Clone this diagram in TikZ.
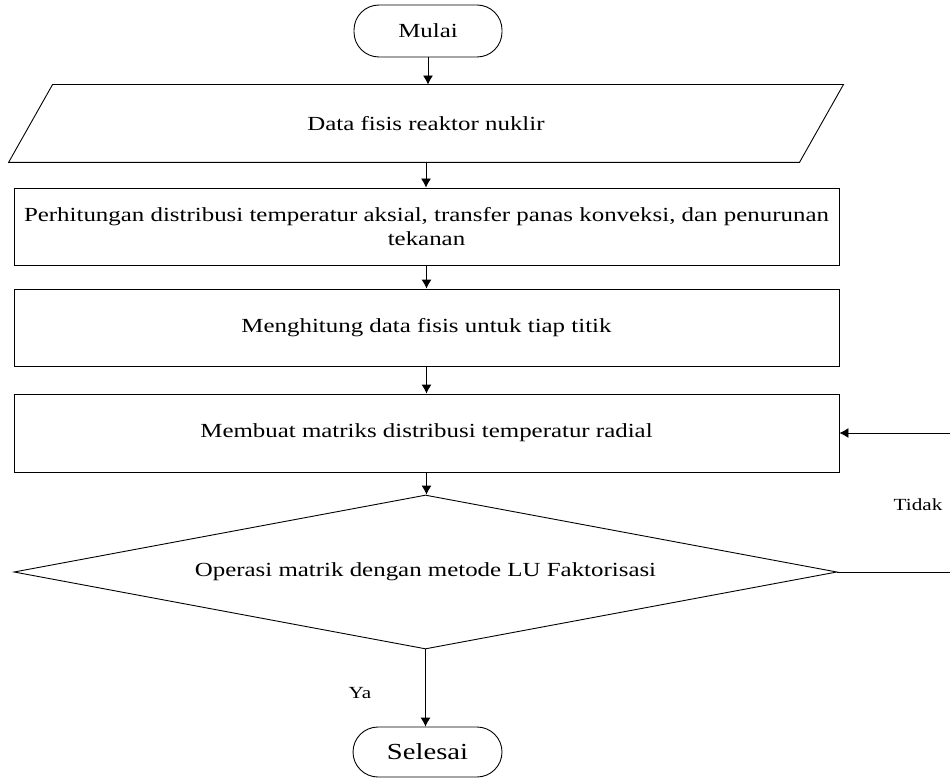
\documentclass[tikz,border=0pt]{standalone}
\usepackage{fontspec}
\setmainfont{Liberation Serif}[FakeStretch=1.245]
\usetikzlibrary{shapes.geometric,arrows.meta}
\begin{document}
\begin{tikzpicture}[x=1pt,y=-1pt,
  every path/.style={line width=0.9pt},
  term/.style={draw, rounded corners=25pt, minimum width=148pt, minimum height=52pt, inner sep=0pt, font=\fontsize{20}{23}\selectfont},
  procbox/.style={draw, minimum width=825pt, minimum height=77pt, inner sep=0pt, align=center, font=\fontsize{20}{23.5}\selectfont},
  decbox/.style={draw, diamond, aspect=5.34, minimum width=823pt, minimum height=154pt, inner sep=0pt, font=\fontsize{20}{23}\selectfont},
  lbl/.style={inner sep=0pt, font=\fontsize{17}{20}\selectfont},
  arr/.style={-{Latex[length=9pt,width=10pt]}}
]
\useasboundingbox (0,0) rectangle (950,778);

\node[term] (mulai) at (428,31) {Mulai};
\node[inner sep=0pt, minimum width=790pt, minimum height=77pt, font=\fontsize{20}{23}\selectfont] (data) at (426,123.5) {Data fisis reaktor nuklir};
\draw ([xshift=22pt]data.north west) -- ([xshift=22pt]data.north east) -- ([xshift=-22pt]data.south east) -- ([xshift=-22pt]data.south west) -- cycle;

\node[procbox] (r1) at (426.5,226.5) {Perhitungan distribusi temperatur aksial, transfer panas konveksi, dan penurunan\\tekanan};
\node[procbox] (r2) at (426.5,327.5) {Menghitung data fisis untuk tiap titik};
\node[procbox, minimum height=78pt] (r3) at (426.5,433) {Membuat matriks distribusi temperatur radial};
\node[decbox] (dec) at (425.5,572) {Operasi matrik dengan metode LU Faktorisasi};
\node[term, minimum width=149pt, minimum height=50pt, font=\fontsize{23}{26}\selectfont] (selesai) at (427.5,752) {Selesai};

\draw[arr] (mulai.south) -- (mulai.south |- data.north);
\draw[arr] (data.south) -- (data.south |- r1.north);
\draw[arr] (r1.south) -- (r2.north);
\draw[arr] (r2.south) -- (r3.north);
\draw[arr] (r3.south) -- (r3.south |- dec.north);
\draw[arr] (dec.south) -- (dec.south |- selesai.north);

\coordinate (fb) at (951,572);
\draw[arr] (dec.east) -- (fb) |- (r3.east);

\node[lbl] (tidak) at (918,505) {Tidak};
\node[lbl] (ya) at (360,693) {Ya};
\end{tikzpicture}
\end{document}
